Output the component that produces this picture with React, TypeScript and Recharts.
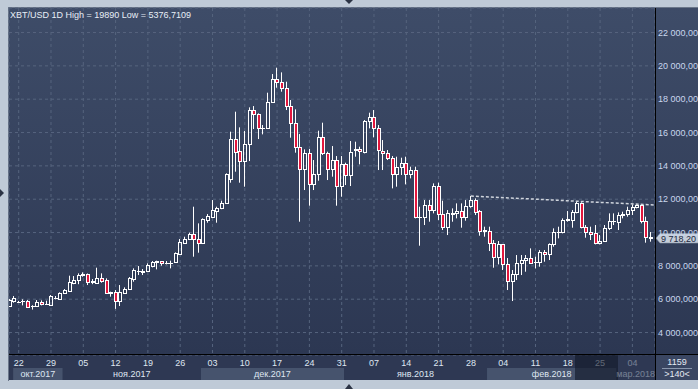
import React from 'react';
import { ComposedChart, Bar, XAxis, YAxis, CartesianGrid, ReferenceLine } from 'recharts';

const opens = [
  5590, 5870, 5840, 5900, 5890, 5580, 5610, 5810, 5700, 5670,
  6080, 6030, 6350, 6510, 6950, 7150, 7480, 7510, 7050, 6990,
  7250, 7150, 6400, 6450, 5890, 6390, 6610, 7210, 7690, 7660,
  7710, 8010, 8260, 8270, 8170, 8170, 8210, 8730, 9390, 9590,
  9910, 9590, 9350, 10750, 10950, 11310, 11450, 11790, 13190, 15590,
  14890, 14310, 15290, 17350, 17090, 16270, 16290, 17810, 19190, 19010,
  18650, 17590, 16590, 15150, 13790, 14750, 12890, 13490, 15750, 14750,
  13810, 14350, 12790, 14090, 13430, 14960, 15010, 14850, 16690, 16910,
  16250, 14910, 14750, 14450, 13490, 13910, 14190, 13490, 13750, 10910,
  10910, 11630, 11350, 12790, 11090, 10350, 11130, 11150, 11290, 10950,
  11590, 11950, 11290, 10110, 10110, 9350, 8550, 9290, 8090, 7110,
  7490, 8150, 8330, 8490, 8210, 8210, 8850, 8690, 9290, 10030,
  10010, 10770, 10750, 11210, 11750, 10350, 10050, 9950, 9350, 9510,
  10250, 10690, 10650, 11070, 11090, 11330, 11510, 11650, 10690, 9700,
];
const highs = [
  6010, 6190, 5900, 5990, 5950, 5640, 5950, 5930, 5910, 6250,
  6190, 6410, 6610, 7410, 7390, 7550, 7610, 7540, 7210, 7890,
  7550, 7250, 6450, 6550, 6850, 6710, 7330, 7850, 7990, 7810,
  8150, 8290, 8310, 8290, 8290, 8310, 8810, 9610, 9750, 9990,
  11550, 10550, 10850, 11110, 11950, 11550, 11910, 13550, 16050, 17250,
  16310, 16090, 17510, 17590, 17150, 16450, 18390, 19510, 19890, 19610,
  19050, 17950, 17390, 15910, 14990, 15010, 14350, 16110, 16590, 14850,
  15190, 14590, 14590, 14190, 15490, 15450, 15150, 16750, 17190, 17350,
  16450, 15550, 14950, 14590, 14550, 14490, 14550, 13950, 13950, 11550,
  11950, 11950, 12950, 12990, 11910, 11350, 11450, 11750, 11750, 11950,
  12190, 12050, 11350, 10350, 10350, 9550, 9490, 9290, 8470, 7750,
  8650, 8650, 8650, 9050, 8550, 8950, 8950, 9350, 10250, 10350,
  10850, 11290, 11350, 11850, 11810, 10450, 10350, 10450, 9850, 10450,
  11150, 11150, 11210, 11250, 11550, 11690, 11690, 11690, 10950, 10030,
];
const lows = [
  5530, 5790, 5800, 5630, 5470, 5377, 5590, 5630, 5690, 5650,
  5990, 6010, 6330, 6490, 6900, 6900, 7350, 6850, 6900, 6970,
  6990, 6350, 6150, 5420, 5590, 6370, 6560, 7050, 7450, 7450,
  7690, 7910, 7790, 8010, 8090, 7850, 8190, 8690, 9350, 9550,
  8550, 8790, 9310, 10590, 10900, 10590, 11400, 11750, 12990, 13650,
  12990, 12750, 14290, 16210, 15610, 15890, 16250, 17790, 18690, 18450,
  17350, 15690, 14790, 10650, 12550, 11610, 12550, 13110, 14650, 13150,
  13350, 11610, 12150, 12850, 12790, 14550, 14090, 14750, 16250, 15710,
  13750, 13750, 14350, 12650, 12750, 13450, 12890, 13250, 10850, 9210,
  10450, 10650, 11150, 10750, 10150, 9850, 10650, 10850, 10290, 10710,
  11490, 11050, 9810, 9750, 8890, 7890, 8090, 7750, 6550, 5890,
  7150, 7450, 7650, 8150, 7850, 7950, 8250, 8350, 9150, 9650,
  9950, 10650, 10290, 11150, 10250, 9690, 9550, 9290, 9290, 9450,
  10150, 10450, 10150, 10850, 10950, 11050, 11450, 10550, 9390, 9450,
];
const closes = [
  5950, 6050, 5860, 5920, 5550, 5610, 5810, 5710, 5720, 6190,
  6100, 6370, 6550, 7010, 7170, 7450, 7500, 7050, 7070, 7250,
  7110, 6390, 6430, 5910, 6450, 6610, 7270, 7750, 7710, 7680,
  8050, 8210, 8290, 8150, 8190, 8200, 8750, 9410, 9590, 9910,
  9590, 9350, 10790, 10990, 11330, 11450, 11790, 13490, 15590, 14850,
  14310, 15290, 17350, 17090, 16250, 16300, 17810, 19190, 19010, 18650,
  17590, 16590, 15150, 13790, 14750, 12890, 13490, 15750, 14750, 13810,
  14350, 12790, 14090, 13430, 14850, 14990, 14890, 16690, 16910, 16250,
  14950, 14750, 14450, 13490, 13950, 14190, 13490, 13750, 10910, 10930,
  11630, 11350, 12790, 11090, 10350, 11150, 11150, 11290, 10950, 11590,
  11950, 11250, 10110, 10130, 9350, 8550, 9290, 8090, 7110, 7490,
  8150, 8350, 8490, 8190, 8230, 8850, 8690, 9290, 10050, 10050,
  10750, 10790, 11210, 11750, 10350, 10050, 9930, 9350, 9510, 10250,
  10710, 10710, 11050, 11090, 11350, 11510, 11650, 10690, 9750, 9718.2,
];

const dayTickIdx = [2, 9, 16, 23, 30, 37, 44, 51, 58, 65, 72, 79, 86, 93, 100, 107, 114, 121, 128, 135];
const dayTickLabels = ['22', '29', '05', '12', '19', '26', '03', '10', '17', '24', '31', '07', '14', '21', '28', '04', '11', '18', '25', '04'];
const monthLabels = ['окт.2017', 'ноя.2017', 'дек.2017', 'янв.2018', 'фев.2018', 'мар.2018'];
const monthFrom = [0.8, 11.5, 41.5, 72.5, 103.5, 131.5];
const monthTo = [11.5, 41.5, 72.5, 103.5, 131.5, 139.9];
const priceTicks = [4000, 6000, 8000, 10000, 12000, 14000, 16000, 18000, 20000, 22000];
const trendStart = { i: 100, v: 12190 };
const trendEnd = { i: 139.9, v: 11650 };
const lastPrice = 9718.2;
const titleText = 'XBT/USD 1D High = 19890 Low = 5376,7109';

const X_DOMAIN: [number, number] = [-0.1, 139.9];
const Y_DOMAIN: [number, number] = [2652, 23472];
const FONT = '"Liberation Sans", Arial, sans-serif';
const RED = '#e3173d';

const data = opens.map((o, i) => ({ i, o, h: highs[i], l: lows[i], c: closes[i], range: [lows[i], highs[i]] }));
const monthCenters = monthFrom.map((f, k) => (f + monthTo[k]) / 2);

const fmtAxis = (v: number) => `${Math.round(v / 1000)} 000,0000`;
const fmtPrice = (v: number) => {
  const [ip, dp] = v.toFixed(2).split('.');
  return ip.replace(/\B(?=(\d{3})+(?!\d))/g, ' ') + ',' + dp;
};

function Candle(props: any) {
  const { x, y, width, height, payload } = props;
  if (!payload || typeof y !== 'number' || typeof x !== 'number') return null;
  const { o, h, l, c } = payload;
  const k = h > l ? height / (h - l) : 0;
  const py = (v: number) => y + (h - v) * k;
  const cx = Math.round(x + width / 2 - 0.5);
  const wx = cx + 0.5;
  const top = Math.round(py(Math.max(o, c)));
  const bot = Math.round(py(Math.min(o, c)));
  const up = c >= o;
  return (
    <g>
      <line x1={wx} x2={wx} y1={py(h)} y2={top + 0.5} stroke="#ffffff" strokeWidth={1} />
      <line x1={wx} x2={wx} y1={bot + 0.5} y2={py(l)} stroke="#ffffff" strokeWidth={1} />
      {bot - top >= 1 ? (
        <rect x={cx - 0.5} y={top + 0.5} width={3} height={bot - top} fill={up ? 'none' : RED} stroke="#ffffff" strokeWidth={1} />
      ) : (
        <line x1={cx - 1} x2={cx + 3} y1={top + 0.5} y2={top + 0.5} stroke="#ffffff" strokeWidth={1} />
      )}
    </g>
  );
}

function DayTick(props: any) {
  const { x, y, payload } = props;
  const k = dayTickIdx.indexOf(payload.value);
  return (
    <text x={x} y={y + 10.7} textAnchor="middle" fontSize={9} fontFamily={FONT} fill="#dfe6f1">
      {dayTickLabels[k]}
    </text>
  );
}

function MonthTick(props: any) {
  const { x, y, payload, width } = props;
  const k = monthCenters.indexOf(payload.value);
  if (k < 0) return null;
  const step = (typeof width === 'number' && width > 0 ? width : 646) / (X_DOMAIN[1] - X_DOMAIN[0]);
  const w = (monthTo[k] - monthFrom[k]) * step;
  return (
    <g>
      {k % 2 === 0 && <rect x={x - w / 2} y={y + 1} width={w} height={12} fill="#46536d" />}
      <text x={x} y={y + 9.7} textAnchor="middle" fontSize={9} fontFamily={FONT} fill="#dfe6f1">
        {monthLabels[k]}
      </text>
    </g>
  );
}

function PriceTick(props: any) {
  const { x, y, payload } = props;
  return (
    <text x={x} y={y + 3.2} textAnchor="start" fontSize={9} fontFamily={FONT} fill="#c9d7ee">
      {fmtAxis(payload.value)}
    </text>
  );
}

function PriceTag(props: any) {
  const vb = props.viewBox || {};
  const x0 = (vb.x || 0) + (vb.width || 0) + 1;
  const y0 = (vb.y || 0) + 1;
  return (
    <g>
      <path
        d={`M${x0} ${y0} L${x0 + 4} ${y0 - 4.8} L${x0 + 43} ${y0 - 4.8} L${x0 + 43} ${y0 + 4.8} L${x0 + 4} ${y0 + 4.8} Z`}
        fill="#c4cdd9"
        stroke="#8592a6"
        strokeWidth={0.6}
      />
      <text x={x0 + 5} y={y0 + 3.3} fontSize={9} fontFamily={FONT} fill="#1c283f">
        {fmtPrice(lastPrice)}
      </text>
    </g>
  );
}

export default function App() {
  return (
    <div style={{ position: 'absolute', left: 0, top: 0, width: 698, height: 389, background: '#bfcad7', overflow: 'hidden', fontFamily: FONT }}>
      <div style={{ position: 'absolute', left: 8, top: 7, width: 690, height: 1, background: '#6b778a' }} />
      <div style={{ position: 'absolute', left: 8, top: 7, width: 1, height: 374, background: '#6b778a' }} />
      <div style={{ position: 'absolute', left: 9, top: 8, width: 689, height: 347, background: 'linear-gradient(#3e4c68, #2c3752)' }} />
      <div style={{ position: 'absolute', left: 9, top: 355, width: 646, height: 25, background: '#2e3853' }} />
      <div style={{ position: 'absolute', left: 655, top: 355, width: 43, height: 25, background: '#3a4662' }} />
      <div style={{ position: 'absolute', left: 0, top: 0 }}>
        <ComposedChart width={698} height={389} data={data} margin={{ top: 8, right: 0, bottom: 9, left: 9 }}>
          <CartesianGrid stroke="#56647e" strokeDasharray="3 3" />
          <XAxis
            dataKey="i"
            type="number"
            domain={X_DOMAIN}
            allowDataOverflow
            ticks={dayTickIdx}
            interval={0}
            height={12}
            axisLine={false}
            tickLine={false}
            tickSize={0}
            tickMargin={0}
            tick={<DayTick />}
          />
          <XAxis
            xAxisId="m"
            dataKey="i"
            type="number"
            domain={X_DOMAIN}
            allowDataOverflow
            ticks={monthCenters}
            interval={0}
            height={13}
            axisLine={false}
            tickLine={false}
            tickSize={0}
            tickMargin={0}
            tick={<MonthTick />}
          />
          <YAxis
            orientation="right"
            type="number"
            domain={Y_DOMAIN}
            allowDataOverflow
            ticks={priceTicks}
            interval={0}
            width={43}
            axisLine={false}
            tickLine={false}
            tickSize={0}
            tickMargin={3}
            tick={<PriceTick />}
          />
          <Bar dataKey="range" barSize={4} shape={<Candle />} isAnimationActive={false} />
          <ReferenceLine
            segment={[{ x: trendStart.i, y: trendStart.v }, { x: trendEnd.i, y: trendEnd.v }]}
            stroke="#cfd4dc"
            strokeWidth={1.5}
            strokeDasharray="3 2"
            ifOverflow="visible"
          />
          <ReferenceLine y={lastPrice} stroke="none" label={<PriceTag />} />
        </ComposedChart>
      </div>
      <svg width={698} height={389} style={{ position: 'absolute', left: 0, top: 0, pointerEvents: 'none' }}>
        <rect x={575} y={355} width={43} height={25} fill="rgba(18,24,40,0.62)" />
        <rect x={618} y={355} width={37} height={25} fill="rgba(46,57,84,0.6)" />
        <line x1={655.5} x2={655.5} y1={8} y2={380} stroke="#000" strokeWidth={1} />
        <line x1={9} x2={698} y1={354.5} y2={354.5} stroke="#000" strokeWidth={1} />
        <text x={10} y={18.3} fontSize={9} fontFamily={FONT} fill="#e8eef6">{titleText}</text>
        <text x={677} y={365} textAnchor="middle" fontSize={9} fontFamily={FONT} fill="#e4eaf3">1159</text>
        <line x1={662} x2={692} y1={368.5} y2={368.5} stroke="#8a97ad" strokeWidth={1} />
        <text x={677} y={376.7} textAnchor="middle" fontSize={9} fontFamily={FONT} fill="#e4eaf3">&gt;140&lt;</text>
        <polygon points="345,0 353,0 349,4" fill="#2b3344" />
        <polygon points="345,389 353,389 349,384" fill="#2b3344" />
        <polygon points="0,189 0,197 4,193" fill="#2b3344" />
      </svg>
    </div>
  );
}
